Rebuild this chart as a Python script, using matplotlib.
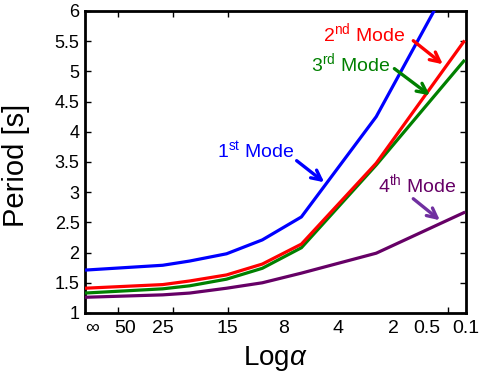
import matplotlib
matplotlib.use("Agg")
import matplotlib.pyplot as plt

plt.rcParams['font.family'] = ['Liberation Sans', 'DejaVu Sans']
plt.rcParams['mathtext.fontset'] = 'custom'
plt.rcParams['mathtext.rm'] = 'Liberation Sans'
plt.rcParams['mathtext.it'] = 'Liberation Sans:italic'

# x positions of data points (axis units)
x_pts = [0.0, 1.41, 1.90, 2.57, 3.22, 3.93, 5.29, 6.88]
mode1 = [1.71, 1.79, 1.86, 1.98, 2.21, 2.59, 4.25, 6.90]
mode2 = [1.41, 1.47, 1.53, 1.63, 1.81, 2.14, 3.48, 5.49]
mode3 = [1.33, 1.40, 1.45, 1.56, 1.74, 2.08, 3.45, 5.17]
mode4 = [1.26, 1.30, 1.33, 1.41, 1.50, 1.66, 1.99, 2.66]

tick_marks = [0.6, 1.6, 2.6, 3.6, 4.6, 5.6, 6.6]
label_pos = [0.13, 0.72, 1.41, 2.59, 3.60, 4.60, 5.60, 6.21, 6.92]
label_txt = ['∞', '50', '25', '15', '8', '4', '2', '0.5', '0.1']
y_ticks = [1, 1.5, 2, 2.5, 3, 3.5, 4, 4.5, 5, 5.5, 6]
y_labels = ['1', '1.5', '2', '2.5', '3', '3.5', '4', '4.5', '5', '5.5', '6']

c_blue, c_red, c_green, c_purple = '#0000FF', '#FF0000', '#008000', '#660066'

fig = plt.figure(figsize=(4.92, 3.78), dpi=100)
ax = fig.add_axes([0.173, 0.172, 0.774, 0.799])

lw = 2.3
ax.plot(x_pts, mode1, color=c_blue, lw=lw, zorder=3)
ax.plot(x_pts, mode4, color=c_purple, lw=lw, zorder=3)
ax.plot(x_pts, mode3, color=c_green, lw=lw, zorder=3)
ax.plot(x_pts, mode2, color=c_red, lw=lw, zorder=4)

ax.set_xlim(0, 6.9)
ax.set_ylim(1, 6)

ax.set_xticks(label_pos)
ax.set_xticklabels(label_txt, fontsize=14)
ax.tick_params(axis='x', which='major', length=0, pad=5)
ax.set_xticks(tick_marks, minor=True)
ax.tick_params(axis='x', which='minor', direction='in', length=4, width=1, top=True, bottom=True)

ax.set_yticks(y_ticks)
ax.set_yticklabels(y_labels, fontsize=13)
ax.tick_params(axis='y', which='major', direction='in', length=4, width=1, left=True, right=True, pad=4)

for s in ax.spines.values():
    s.set_linewidth(2)

ax.set_ylabel('Period [s]', fontsize=21, labelpad=4)
ax.yaxis.set_label_coords(-0.145, 0.49)
ax.set_xlabel(r'Log$\it{\alpha}$', fontsize=20, labelpad=5)

def px2data(px, py):
    # convert approx pixel coordinates of reference into data coordinates
    return ((px - 85) / 55.2, 1 + (313 - py) / 60.4)

def annot(text, color, txy, a_from, a_to, acolor=None):
    acolor = acolor or color
    tx, ty = px2data(*txy)
    ax.text(tx, ty, text, color=color, fontsize=14, ha='left', va='center', zorder=6)
    ax.annotate('', xy=px2data(*a_to), xytext=px2data(*a_from),
                arrowprops=dict(arrowstyle='->,head_length=0.7,head_width=0.35', color=acolor, lw=2.4),
                zorder=6)

annot(r'1$^{\rm st}$ Mode', c_blue, (217, 151), (295, 159), (327, 184))
annot(r'2$^{\rm nd}$ Mode', c_red, (324, 33), (412, 39), (446, 66))
annot(r'3$^{\rm rd}$ Mode', c_green, (312, 63), (393, 67), (433, 97))
annot(r'4$^{\rm th}$ Mode', c_purple, (379, 184), (412, 197), (443, 222), acolor='#7030A0')

fig.savefig('out.png', dpi=100)
